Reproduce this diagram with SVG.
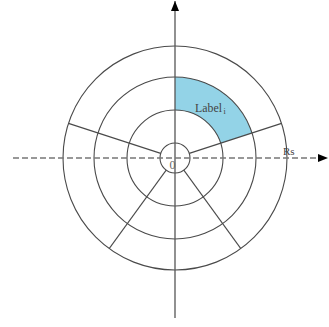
<svg xmlns="http://www.w3.org/2000/svg" width="329" height="327" viewBox="0 0 329 327">
  <defs>
    <style>
      .ring { fill: none; stroke: #4a4a4a; stroke-width: 1.1; }
      .spoke { stroke: #4a4a4a; stroke-width: 1.1; }
      .axis { stroke: #555; stroke-width: 1.3; fill: none; }
      .dash { stroke: #777; stroke-width: 1.6; stroke-dasharray: 6 3; fill: none; }
      .txt { font-family: "Liberation Serif", "DejaVu Serif", serif; fill: #444; }
    </style>
    <marker id="arr" viewBox="0 0 10 8" refX="10" refY="4" markerWidth="10" markerHeight="8" markerUnits="userSpaceOnUse" orient="auto">
      <path d="M0,0 L10,4 L0,8 Z" fill="#000"/>
    </marker>
  </defs>
  <rect width="329" height="327" fill="#fff"/>
  <g id="sector">
    <path d="M175,77 A81,81 0 0 1 252.04,132.97 L220.65,143.17 A48,48 0 0 0 175,110 Z" fill="#93d3e7"/>
  </g>
  <g id="rings">
    <circle class="ring" cx="175" cy="158" r="15"/>
    <circle class="ring" cx="175" cy="158" r="48"/>
    <circle class="ring" cx="175" cy="158" r="81"/>
    <circle class="ring" cx="175" cy="158" r="112"/>
  </g>
  <g id="connectors">
    <line class="spoke" x1="189.27" y1="153.36" x2="281.52" y2="123.39"/>
    <line class="spoke" x1="160.73" y1="153.36" x2="68.48" y2="123.39"/>
    <line class="spoke" x1="183.82" y1="170.14" x2="240.83" y2="248.61"/>
    <line class="spoke" x1="166.18" y1="170.14" x2="109.17" y2="248.61"/>
    <line class="axis" x1="175" y1="318" x2="175" y2="1" marker-end="url(#arr)"/>
    <line class="dash" x1="13" y1="158" x2="320" y2="158"/>
    <path d="M318,154 L328,158 L318,162 Z" fill="#000"/>
  </g>
  <g id="labels">
    <text class="txt" x="195" y="111.7" font-size="13.5"><tspan textLength="27" lengthAdjust="spacingAndGlyphs">Label</tspan><tspan font-size="8" dx="1.5" dy="2.5">i</tspan></text>
    <text class="txt" x="169.5" y="169" font-size="12" style="fill:#666">0</text>
    <text class="txt" x="283" y="155" font-size="11">Rs</text>
  </g>
</svg>
